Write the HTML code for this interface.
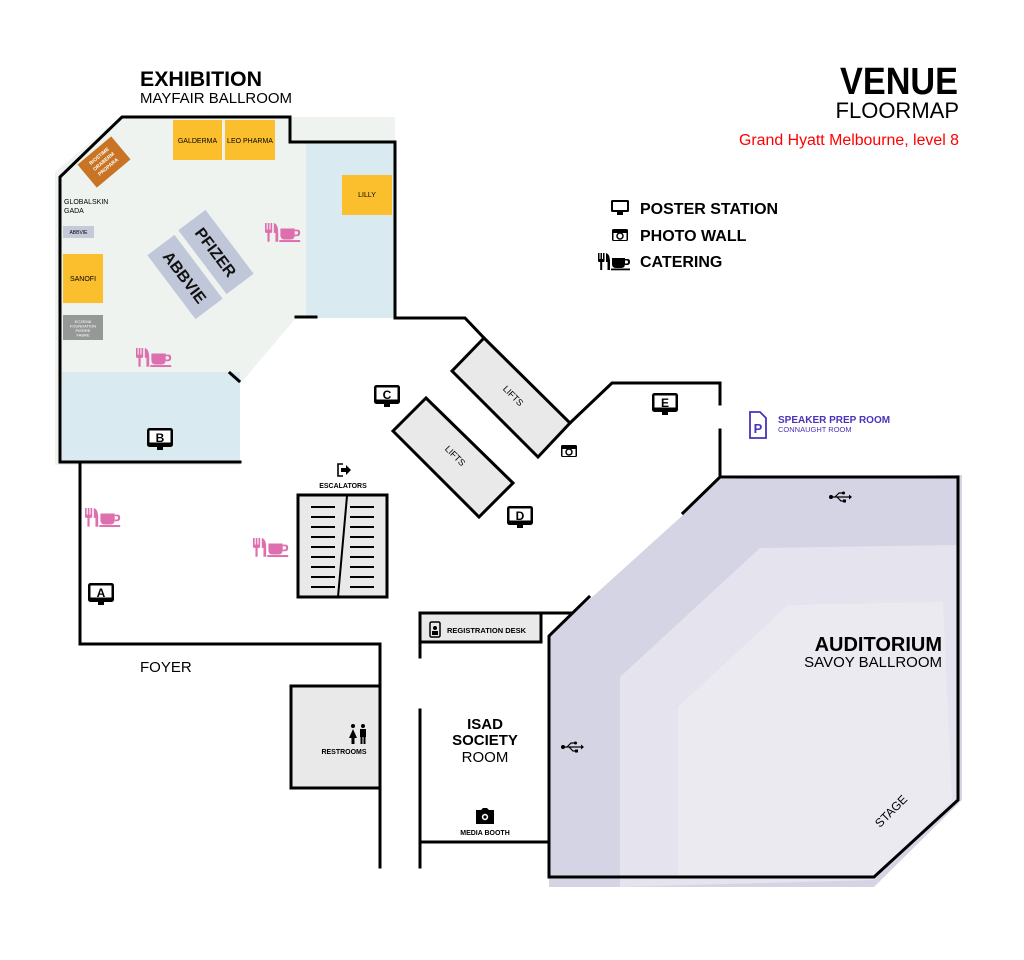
<!DOCTYPE html>
<html><head><meta charset="utf-8"><style>
html,body{margin:0;padding:0;background:#fff}
svg{display:block}
text{font-family:"Liberation Sans",sans-serif}
</style></head><body>
<svg width="1024" height="960" viewBox="0 0 1024 960" xmlns="http://www.w3.org/2000/svg">
<defs>
<g id="cat0">
<rect x="0" y="0" width="1.5" height="7"/><rect x="2.5" y="0" width="1.5" height="7"/><rect x="5" y="0" width="1.5" height="7"/>
<rect x="0" y="6" width="6.5" height="3" rx="1"/><rect x="2.2" y="8" width="2" height="9"/>
<path d="M8 0 Q12 1 12 9 L12 17 L9.5 17 L9.5 9 L8 9 Z"/>
<path d="M14 5 H27 V11 Q27 15 23 15 H18 Q14 15 14 11 Z"/>
<path d="M27 6 H30 Q32 6 32 9 Q32 12 29 12 H27 V10.5 H29 Q30 10.5 30 9 Q30 7.5 29 7.5 H27 Z"/>
<rect x="13" y="15.5" width="19" height="1.8"/>
</g>
<g id="cat"><use href="#cat0" transform="scale(1.1)"/></g>
<g id="mon">
<rect x="-13" y="-10" width="26" height="19" rx="2.5" fill="#000"/>
<rect x="-10.5" y="-7.5" width="21" height="12" fill="#fff"/>
<rect x="-3" y="9" width="6" height="3" fill="#000"/>
</g>
<g id="usb" stroke="#000" stroke-width="1.2" fill="#000">
<circle cx="-9" cy="0" r="2" stroke="none"/>
<line x1="-9" y1="0" x2="9" y2="0"/>
<path d="M9 -2.5 L12 0 L9 2.5 Z" stroke="none"/>
<path d="M-5 0 L-1 -4 L3 -4" fill="none"/><circle cx="3.5" cy="-4" r="1.5" stroke="none"/>
<path d="M-3 0 L1 4 L4 4" fill="none"/><rect x="3" y="2.5" width="3" height="3" stroke="none"/>
</g>
<g id="cam">
<rect x="-8" y="-6" width="16" height="12" rx="1.5" fill="#000"/>
<rect x="-6.5" y="-4" width="13" height="9" fill="#fff"/>
<rect x="-6.5" y="-4" width="13" height="2" fill="#000"/>
<circle cx="0" cy="1" r="3" fill="none" stroke="#000" stroke-width="1.5"/>
</g>
</defs>

<polygon points="55,172 121,117 395,117 395,318 296,318 240,384 240,465 55,465" fill="#eff3f0"/>
<rect x="306" y="142" width="89" height="176" fill="#d9eaf0"/>
<rect x="62" y="372" width="178" height="90" fill="#d9eaf0"/>

<polygon points="549,887 549,636 683,515 720,479 962,475 962,800 874,887" fill="#d5d4e4"/>
<polygon points="620,887 620,677 760,548 958,545 958,800 874,880" fill="#e4e3ee"/>
<polygon points="678,875 678,707 788,605 943,602 952,800 874,877" fill="#ebeaf1"/>

<g transform="translate(104,162) rotate(-40)"><rect x="-22" y="-15" width="44" height="30" fill="#c87424"/>
<text x="0" y="-6" font-size="5" fill="#fff" text-anchor="middle" font-weight="bold">BIOSTIME</text>
<text x="0" y="1" font-size="5" fill="#fff" text-anchor="middle" font-weight="bold">ORABERM</text>
<text x="0" y="8" font-size="5" fill="#fff" text-anchor="middle" font-weight="bold">PROPARA</text></g>
<rect x="173" y="120" width="49" height="40" fill="#fbbf2d"/><text x="197.5" y="143" font-size="7" text-anchor="middle">GALDERMA</text>
<rect x="225" y="120" width="50" height="40" fill="#fbbf2d"/><text x="250" y="143" font-size="7" text-anchor="middle">LEO PHARMA</text>
<rect x="342" y="175" width="50" height="40" fill="#fbbf2d"/><text x="367" y="197" font-size="7" text-anchor="middle">LILLY</text>
<text x="64" y="204" font-size="7">GLOBALSKIN</text><text x="64" y="213" font-size="7">GADA</text>
<rect x="63" y="226" width="31" height="12" fill="#c5cadb"/><text x="78.5" y="234" font-size="5" text-anchor="middle">ABBVIE</text>
<rect x="63" y="254" width="40" height="49" fill="#fbbf2d"/><text x="83" y="281" font-size="7" text-anchor="middle">SANOFI</text>
<rect x="63" y="315" width="40" height="25" fill="#959896"/>
<text x="83" y="323" font-size="4" fill="#fff" text-anchor="middle">ECZEMA</text><text x="83" y="327.5" font-size="4" fill="#fff" text-anchor="middle">FOUNDATION</text><text x="83" y="332" font-size="4" fill="#fff" text-anchor="middle">PIERRE</text><text x="83" y="336.5" font-size="4" fill="#fff" text-anchor="middle">FABRE</text>
<g transform="translate(216,252) rotate(53)"><rect x="-40" y="-17" width="80" height="34" fill="#c0c7d8"/><text x="0" y="6" font-size="16" text-anchor="middle" font-weight="bold" fill="#111">PFIZER</text></g>
<g transform="translate(185,277) rotate(53)"><rect x="-40" y="-17" width="80" height="34" fill="#c0c7d8"/><text x="0" y="6" font-size="16" text-anchor="middle" font-weight="bold" fill="#111">ABBVIE</text></g>

<g fill="#dd6fae"><use href="#cat" x="265" y="223"/><use href="#cat" x="136" y="348"/><use href="#cat" x="85" y="508"/><use href="#cat" x="253" y="538"/></g>

<g stroke="#000" stroke-width="3" fill="#e9e9e9">
<polygon points="484,338 570,423 538,457 452,371"/>
<polygon points="426,398 513,483 479,517 393,431"/>
<rect x="298" y="495" width="89" height="102"/>
<rect x="420" y="613" width="121" height="29"/>
<rect x="291" y="686" width="89" height="102"/>
</g>
<text transform="translate(511,398) rotate(45)" font-size="9" text-anchor="middle">LIFTS</text>
<text transform="translate(453,458) rotate(45)" font-size="9" text-anchor="middle">LIFTS</text>
<line x1="347" y1="496" x2="338" y2="597" stroke="#000" stroke-width="2"/>
<g stroke="#000" stroke-width="2">
<path d="M311 507H335M311 517H335M311 527H335M311 537H335M311 547H335M311 557H335M311 567H335M311 577H335M311 587H335"/>
<path d="M350 507H374M350 517H374M350 527H374M350 537H374M350 547H374M350 557H374M350 567H374M350 577H374M350 587H374"/>
</g>

<g stroke="#000" stroke-width="3" fill="none" stroke-linecap="square">
<polyline points="60,462 60,177 122,117 290,117 290,142 395,142 395,318 465,318 484,338"/>
<line x1="296" y1="317" x2="316" y2="317"/>
<line x1="230" y1="373" x2="239" y2="381"/>
<line x1="60" y1="462" x2="240" y2="462"/>
<polyline points="570,423 612,383 720,383 720,404"/>
<line x1="720" y1="430" x2="720" y2="477"/>
<polyline points="683,513 720,477 958,477 958,800 874,877 549,877 549,636 589,597"/>
<line x1="541" y1="613" x2="572" y2="613"/>
<line x1="420" y1="642" x2="420" y2="657"/>
<line x1="420" y1="710" x2="420" y2="867"/>
<line x1="420" y1="842" x2="549" y2="842"/>
<polyline points="80,462 80,644 380,644 380,867"/>
</g>

<g font-weight="bold" font-size="12" text-anchor="middle">
<use href="#mon" x="160" y="438"/><text x="160" y="442">B</text>
<use href="#mon" x="387" y="395"/><text x="387" y="399">C</text>
<use href="#mon" x="520" y="516"/><text x="520" y="520">D</text>
<use href="#mon" x="665" y="403"/><text x="665" y="407">E</text>
<use href="#mon" x="101" y="593"/><text x="101" y="597">A</text>
</g>
<use href="#cam" x="569" y="451"/>

<path d="M343 464 H338 V476 H343" fill="none" stroke="#000" stroke-width="1.6"/>
<path d="M341 468 H346 V465 L351 470 L346 475 V472 H341 Z" fill="#000"/>
<text x="343" y="488" font-size="7" font-weight="bold" text-anchor="middle">ESCALATORS</text>

<rect x="430" y="622" width="10" height="15" rx="1.5" fill="none" stroke="#000" stroke-width="1.5"/>
<circle cx="435" cy="628" r="2" fill="#000"/><rect x="432" y="631" width="6" height="4" fill="#000"/>
<text x="447" y="633" font-size="7.5" font-weight="bold">REGISTRATION DESK</text>

<g fill="#000"><circle cx="353" cy="726" r="2"/><path d="M353 729 L349 738 H351.5 V744 H354.5 V738 H357 Z"/><circle cx="363" cy="726" r="2"/><rect x="360" y="729" width="6" height="8"/><rect x="360.5" y="736" width="2" height="8"/><rect x="363.5" y="736" width="2" height="8"/></g>
<text x="344" y="754" font-size="7" font-weight="bold" text-anchor="middle">RESTROOMS</text>
<text x="140" y="672" font-size="15">FOYER</text>

<text x="485" y="729" font-size="15" font-weight="bold" text-anchor="middle">ISAD</text>
<text x="485" y="745" font-size="15" font-weight="bold" text-anchor="middle">SOCIETY</text>
<text x="485" y="762" font-size="15" text-anchor="middle">ROOM</text>
<path d="M476 810 h5 l2 -2 h4 l2 2 h5 v14 h-18z" fill="#000"/><circle cx="485" cy="817" r="3.2" fill="#fff"/><circle cx="485" cy="817" r="1.6" fill="#000"/>
<text x="485" y="835" font-size="7" font-weight="bold" text-anchor="middle">MEDIA BOOTH</text>

<use href="#usb" x="840" y="497"/><use href="#usb" x="572" y="747"/>
<text x="942" y="651" font-size="20" font-weight="bold" text-anchor="end">AUDITORIUM</text>
<text x="942" y="667" font-size="15" text-anchor="end">SAVOY BALLROOM</text>
<text transform="translate(894,814) rotate(-45)" font-size="12" text-anchor="middle">STAGE</text>

<path d="M750 412 h10 l6 6 v20 h-16 z" fill="none" stroke="#4b32b8" stroke-width="1.8"/>
<text x="758" y="433" font-size="13" font-weight="bold" fill="#4b32b8" text-anchor="middle" font-family="Liberation Serif,serif">P</text>
<text x="778" y="423" font-size="10" font-weight="bold" fill="#4b32b8">SPEAKER PREP ROOM</text>
<text x="778" y="432" font-size="7.5" fill="#4b32b8">CONNAUGHT ROOM</text>

<text x="140" y="86" font-size="21" font-weight="bold" textLength="122" lengthAdjust="spacingAndGlyphs">EXHIBITION</text>
<text x="140" y="103" font-size="15" textLength="152" lengthAdjust="spacingAndGlyphs">MAYFAIR BALLROOM</text>
<text x="840" y="94" font-size="38" font-weight="bold" textLength="118" lengthAdjust="spacingAndGlyphs">VENUE</text>
<text x="959" y="118" font-size="22" text-anchor="end">FLOORMAP</text>
<text x="959" y="145" font-size="15.5" fill="#f00" text-anchor="end" textLength="220" lengthAdjust="spacingAndGlyphs">Grand Hyatt Melbourne, level 8</text>

<rect x="611" y="200" width="18" height="12" rx="1.5" fill="#000"/><rect x="613" y="202" width="14" height="8" fill="#fff"/><rect x="617" y="212" width="6" height="3" fill="#000"/>
<use href="#cam" x="620" y="235"/>
<use href="#cat0" x="598" y="253" fill="#000"/>
<g font-size="16" font-weight="bold"><text x="640" y="214">POSTER STATION</text><text x="640" y="241">PHOTO WALL</text><text x="640" y="267">CATERING</text></g>
</svg>
</body></html>
